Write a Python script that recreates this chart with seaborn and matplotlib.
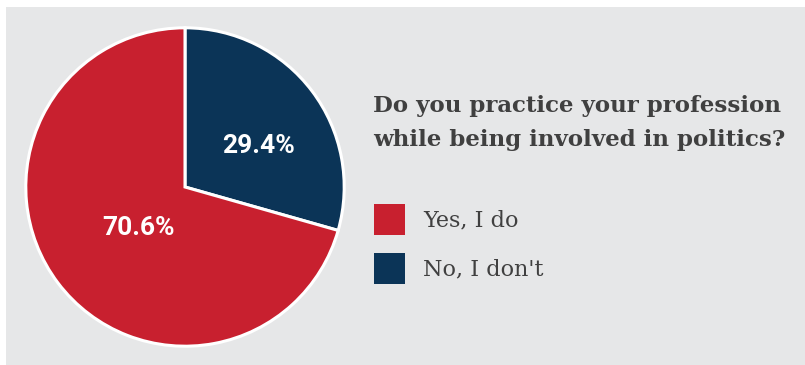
import numpy as np
import matplotlib
matplotlib.use("Agg")
import matplotlib.pyplot as plt
from matplotlib.patches import Rectangle
import seaborn as sns

# Survey answers
categories = ["No, I don't", "Yes, I do"]
shares = [29.4, 70.6]
legend_order = ["Yes, I do", "No, I don't"]
question = "Do you practice your profession\nwhile being involved in politics?"

sns.set_theme(style="white")
palette = dict(zip(["Yes, I do", "No, I don't"], sns.color_palette(["#c8202f", "#0b3457"])))

W, H = 805, 365
fig = plt.figure(figsize=(W / 100, H / 100), dpi=100)
fig.patch.set_facecolor("white")

# Grey panel behind everything
fig.patches.append(Rectangle((6 / W, 0), (W - 6) / W, (H - 7) / H,
                             transform=fig.transFigure, facecolor="#e6e7e8",
                             edgecolor="none", zorder=-5))

# Pie
cx, cy, r = 185, 187, 160
ax = fig.add_axes([(cx - r) / W, (H - cy - r) / H, 2 * r / W, 2 * r / H])
ax.set_zorder(2)
ax.set_facecolor("none")
wedges, _ = ax.pie(shares, colors=[palette[c] for c in categories],
                   startangle=90, counterclock=False, radius=1,
                   wedgeprops=dict(edgecolor="white", linewidth=2.2))
ax.set_xlim(-1.005, 1.005)
ax.set_ylim(-1.005, 1.005)
ax.set_aspect("equal")
ax.axis("off")

label_font = ["Liberation Sans Narrow", "Roboto", "DejaVu Sans"]
label_dist = {"No, I don't": 0.53, "Yes, I do": 0.39}
label_shift = {"No, I don't": -8, "Yes, I do": 4}
for w, cat, val in zip(wedges, categories, shares):
    mid = np.deg2rad((w.theta1 + w.theta2) / 2 + label_shift[cat])
    d = label_dist[cat]
    ax.text(d * np.cos(mid), d * np.sin(mid), f"{val:.1f}%",
            ha="center", va="center", color="white", fontsize=19,
            fontweight="bold", family=label_font)

# Question and legend
text_color = "#404040"
fig.text(373 / W, 1 - 123 / H, question, ha="left", va="center",
         fontsize=16.5, fontweight="bold", color=text_color,
         family=["DejaVu Serif"], linespacing=1.65)

for i, cat in enumerate(legend_order):
    top = 204 + i * 49
    fig.patches.append(Rectangle((374 / W, 1 - (top + 31) / H), 31 / W, 31 / H,
                                 transform=fig.transFigure,
                                 facecolor=palette[cat], edgecolor="none",
                                 zorder=3))
    fig.text(423 / W, 1 - (top + 16) / H, cat, ha="left", va="center",
             fontsize=16, color=text_color, family=["DejaVu Serif"])

fig.savefig("out.png", dpi=100, facecolor=fig.get_facecolor())
